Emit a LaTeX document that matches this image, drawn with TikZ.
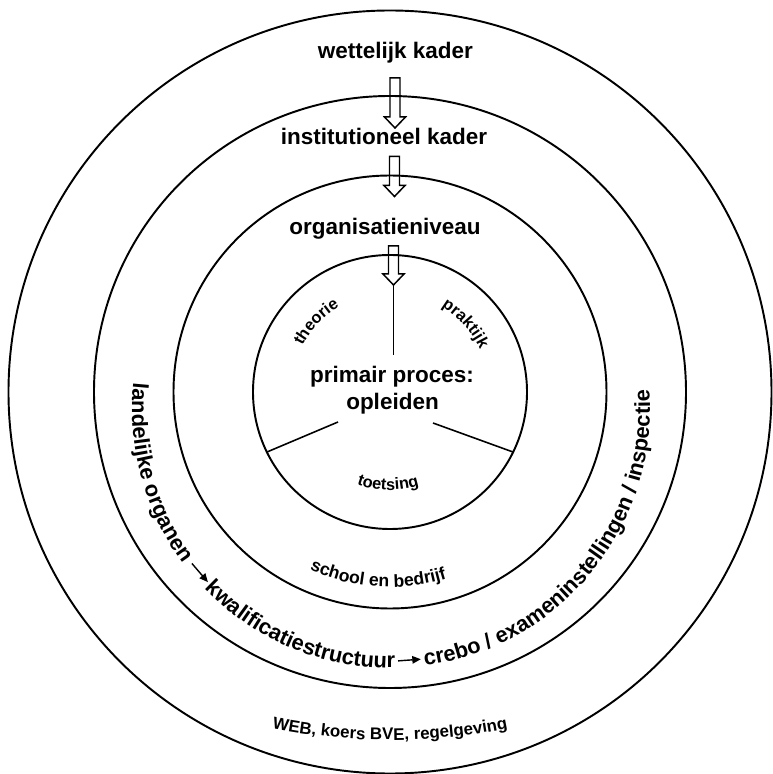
\documentclass[tikz,border=0pt]{standalone}
\usepackage{fontspec}
\setmainfont{Liberation Sans}
\usetikzlibrary{decorations.text,arrows.meta}
\newcommand{\kaderfont}{\bfseries\fontsize{12.8}{15}\selectfont}
\newcommand{\ringfont}{\bfseries\fontsize{12.4}{14}\selectfont}
\newcommand{\smallfont}{\bfseries\fontsize{9.3}{11}\selectfont}
\newcommand{\schoolfont}{\bfseries\fontsize{10}{12}\selectfont}
\newcommand{\webfont}{\bfseries\fontsize{9.6}{11}\selectfont}
\newcommand{\hollowarrow}[2]{%
  \draw[line width=0.85pt,line join=miter] (#1) ++(-0.10,0) -- ++(0,{-(#2-0.22)}) -- ++(-0.11,0)
    -- ++(0.21,-0.22) -- ++(0.21,0.22) -- ++(-0.11,0) -- ++(0,{#2-0.22}) -- cycle;}
\tikzset{
  ring/.style={line width=1.1pt},
  kader/.style={font=\kaderfont,anchor=base,inner sep=0pt},
  arctext/.style={decorate,decoration={text along path,text align=center,text={#1}}},
  ringtext/.style={decorate,decoration={text along path,text align=left,text={#1}}},
  flow/.style={line width=0.8pt,-{Triangle[length=0.17cm,width=0.15cm]}}
}
\begin{document}
\begin{tikzpicture}
  \useasboundingbox (-7.80,-7.64) rectangle (7.64,7.84);
  \foreach \r in {2.74,4.33,5.92,7.63}
    \draw[ring] (0,0) circle (\r);
  % levels
  \node[kader] (wettelijk) at (0.11,6.66) {wettelijk kader};
  \node[kader] (institutioneel) at (-0.12,4.94) {institutioneel kader};
  \node[kader] (organisatie) at (-0.10,3.14) {organisatieniveau};
  \node[kader] (primair) at (0.04,0.18) {primair proces:};
  \node[kader] (opleiden) at (0.05,-0.36) {opleiden};
  % block arrows
  \coordinate (w1) at (0.10,6.28);
  \coordinate (i1) at (0.09,4.71);
  \coordinate (o1) at (0.07,2.92);
  \hollowarrow{w1}{1.00}
  \hollowarrow{i1}{0.80}
  \hollowarrow{o1}{0.78}
  % sectors
  \coordinate (o2) at (0.07,2.14);
  \coordinate (o3) at (0.07,0.74);
  \coordinate (sl) at (-1.04,-0.60);
  \coordinate (sr) at (0.86,-0.62);
  \draw[line width=0.9pt] (o2) -- (o3);
  \draw[line width=0.9pt] (sl) -- (206:2.74);
  \draw[line width=0.9pt] (sr) -- (-26:2.74);
  % texts along the rings
  \path[arctext={|\smallfont|theorie}] (166.5:1.98) arc[start angle=166.5,end angle=106.5,radius=1.98];
  \path[arctext={|\smallfont|praktijk}] (72:1.99) arc[start angle=72,end angle=12,radius=1.99];
  \path[arctext={|\smallfont|toetsing}] (238.8:1.96) arc[start angle=238.8,end angle=298.8,radius=1.96];
  \path[arctext={|\schoolfont|school en bedrijf}] (236.3:3.90) arc[start angle=236.3,end angle=296.3,radius=3.90];
  \path[shift={(0,5.04)},arctext={|\webfont|WEB, koers BVE, regelgeving}]
    (255:12) arc[start angle=255,end angle=285,radius=12];
  % landelijke organen -> kwalificatiestructuur -> crebo
  \begin{scope}[shift={(0.02,-0.34)}]
    \path[ringtext={|\ringfont|landelijke organen}] (174.2:5.18) arc[start angle=174.2,end angle=222,radius=5.18];
    \path[ringtext={|\ringfont|kwalificatiestructuur}] (224:5.18) arc[start angle=224,end angle=276,radius=5.18];
    \path[ringtext={|\ringfont|crebo / exameninstellingen / inspectie}] (277.5:5.18) arc[start angle=277.5,end angle=372,radius=5.18];
    \coordinate (f1s) at (217.8:5.04);
    \coordinate (f1e) at (223.4:5.04);
    \coordinate (f2s) at (271.6:5.04);
    \coordinate (f2e) at (276.8:5.04);
    \draw[flow] (f1s) -- (f1e);
    \draw[flow] (f2s) -- (f2e);
  \end{scope}
\end{tikzpicture}
\end{document}
